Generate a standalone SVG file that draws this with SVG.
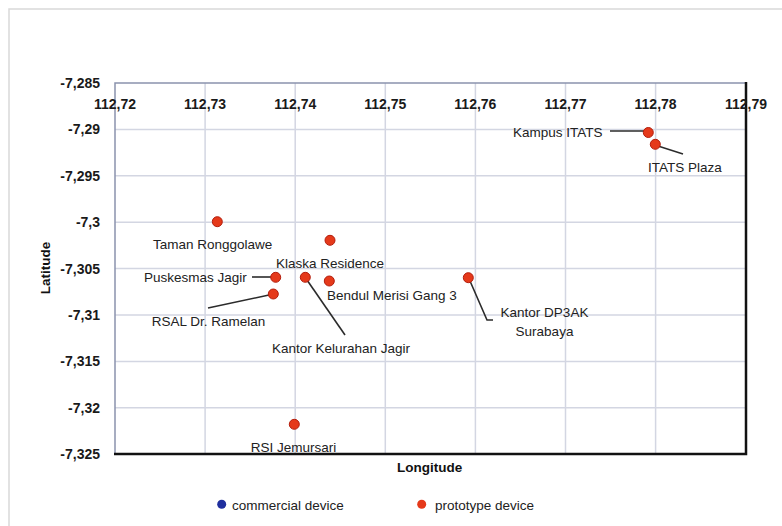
<svg xmlns="http://www.w3.org/2000/svg" width="782" height="526" viewBox="0 0 782 526">
<style>
.grid{stroke:#d3d6e2;stroke-width:1.5;fill:none}
.tick{font-family:"Liberation Sans",Arial,sans-serif;font-size:14px;font-weight:bold;fill:#1a1a1a}
.ytick{text-anchor:end;dominant-baseline:central}
.xtick{text-anchor:middle;dominant-baseline:central}
.lbl{font-family:"Liberation Sans",Arial,sans-serif;font-size:13.5px;fill:#222;dominant-baseline:central}
.axt{font-family:"Liberation Sans",Arial,sans-serif;font-size:13.5px;font-weight:bold;fill:#111;dominant-baseline:central}
.dot{fill:#e5391a;stroke:#b31d0c;stroke-width:1}
.lead{stroke:#2b2b2b;stroke-width:1.6;fill:none}
.leg{font-family:"Liberation Sans",Arial,sans-serif;font-size:13.5px;fill:#222;dominant-baseline:central}
</style>
<rect width="782" height="526" fill="#ffffff"/>
<path d="M9,526 V9 H782" fill="none" stroke="#d9d9d9" stroke-width="1.5"/>
<g id="grid">
<path class="grid" d="M205.1,83 V454 M295.2,83 V454 M385.3,83 V454 M475.4,83 V454 M565.5,83 V454 M655.6,83 V454"/>
<path class="grid" d="M115,129.4 H746 M115,175.8 H746 M115,222.2 H746 M115,268.6 H746 M115,315 H746 M115,361.4 H746 M115,407.8 H746"/>
</g>
<g id="plot-border">
<path d="M115,454 V83 H746" fill="none" stroke="#8a93ad" stroke-width="1.5"/>
<path d="M746,82 V454 H114" fill="none" stroke="#111" stroke-width="2.5"/>
</g>
<g id="y-ticks" class="tick ytick">
<text x="100" y="83">-7,285</text>
<text x="100" y="129.4">-7,29</text>
<text x="100" y="175.8">-7,295</text>
<text x="100" y="222.2">-7,3</text>
<text x="100" y="268.6">-7,305</text>
<text x="100" y="315">-7,31</text>
<text x="100" y="361.4">-7,315</text>
<text x="100" y="407.8">-7,32</text>
<text x="100" y="454">-7,325</text>
</g>
<g id="x-ticks" class="tick xtick">
<text x="115" y="104">112,72</text>
<text x="205.1" y="104">112,73</text>
<text x="295.2" y="104">112,74</text>
<text x="385.3" y="104">112,75</text>
<text x="475.4" y="104">112,76</text>
<text x="565.5" y="104">112,77</text>
<text x="655.6" y="104">112,78</text>
<text x="746" y="104">112,79</text>
</g>
<text class="axt" x="45" y="268" text-anchor="middle" transform="rotate(-90 45 268)">Latitude</text>
<text class="axt" x="397" y="467">Longitude</text>
<g id="connectors">
<path class="lead" d="M610,131 H644"/>
<path class="lead" d="M658,146 L683,154"/>
<path class="lead" d="M252,277 H271"/>
<path class="lead" d="M307,280 L345,335"/>
<path class="lead" d="M269,295 L208,308"/>
<path class="lead" d="M470,281 L487,320 H493"/>
</g>
<g id="kampus-itats"><circle class="dot" cx="648.3" cy="132.5" r="5"/><text class="lbl" x="513" y="132">Kampus ITATS</text></g>
<g id="itats-plaza"><circle class="dot" cx="655.3" cy="144.3" r="5"/><text class="lbl" x="648" y="167.5">ITATS Plaza</text></g>
<g id="taman-ronggolawe"><circle class="dot" cx="217.3" cy="221.7" r="5"/><text class="lbl" x="153" y="244">Taman Ronggolawe</text></g>
<g id="klaska-residence"><circle class="dot" cx="330" cy="240.3" r="5"/><text class="lbl" x="276" y="263.3">Klaska Residence</text></g>
<g id="puskesmas-jagir"><circle class="dot" cx="275.7" cy="277.3" r="5"/><text class="lbl" x="144" y="277">Puskesmas Jagir</text></g>
<g id="kantor-kelurahan-jagir"><circle class="dot" cx="305.3" cy="277.3" r="5"/><text class="lbl" x="272" y="348">Kantor Kelurahan Jagir</text></g>
<g id="bendul-merisi"><circle class="dot" cx="329.3" cy="281" r="5"/><text class="lbl" x="327" y="295.7">Bendul Merisi Gang 3</text></g>
<g id="rsal-ramelan"><circle class="dot" cx="273.3" cy="294" r="5"/><text class="lbl" x="151.7" y="321.7">RSAL Dr. Ramelan</text></g>
<g id="kantor-dp3ak"><circle class="dot" cx="468.3" cy="277.7" r="5"/><text class="lbl" x="544.5" y="312.7" text-anchor="middle">Kantor DP3AK</text><text class="lbl" x="544.5" y="331.7" text-anchor="middle">Surabaya</text></g>
<g id="rsi-jemursari"><circle class="dot" cx="294.3" cy="424.3" r="5"/><text class="lbl" x="293.5" y="447.3" text-anchor="middle">RSI Jemursari</text></g>
<g id="legend">
<circle cx="221.7" cy="504.3" r="4.5" fill="#1f2f9e"/><text class="leg" x="232" y="505">commercial device</text>
<circle cx="421.7" cy="504.3" r="4.5" fill="#e5391a"/><text class="leg" x="435" y="505">prototype device</text>
</g>
</svg>
